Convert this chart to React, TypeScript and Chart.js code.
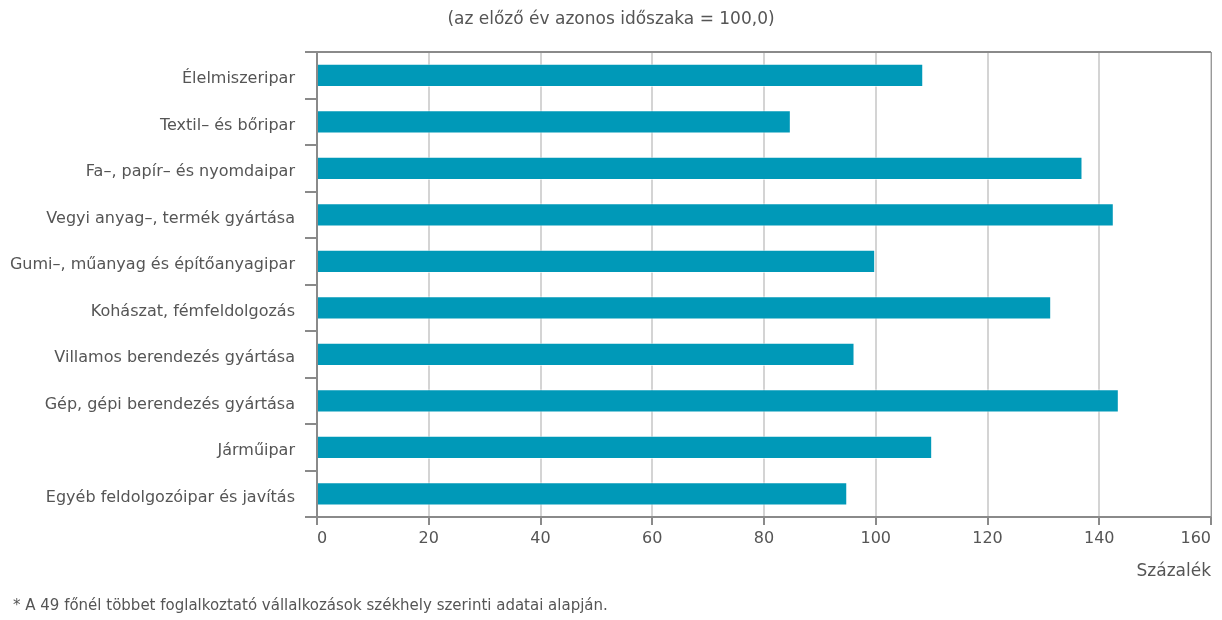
import React, { useEffect, useRef } from "react";
import { Chart, registerables } from "chart.js";

Chart.register(...registerables);

const categories = [
  "Élelmiszeripar",
  "Textil– és bőripar",
  "Fa–, papír– és nyomdaipar",
  "Vegyi anyag–, termék gyártása",
  "Gumi–, műanyag és építőanyagipar",
  "Kohászat, fémfeldolgozás",
  "Villamos berendezés gyártása",
  "Gép, gépi berendezés gyártása",
  "Járműipar",
  "Egyéb feldolgozóipar és javítás",
];
const values = [108.5, 84.8, 137.0, 142.6, 99.9, 131.4, 96.2, 143.5, 110.1, 94.9];
const xMin = 0;
const xMax = 160;
const xStep = 20;
const titleText = "(az előző év azonos időszaka = 100,0)";
const axisTitle = "Százalék";
const footnote = "* A 49 főnél többet foglalkoztató vállalkozások székhely szerinti adatai alapján.";

const FONT = "'DejaVu Sans', sans-serif";
const TEXT = "#555555";

const framePlugin = {
  id: "frame",
  afterDraw(chart: any) {
    const { ctx, chartArea } = chart;
    ctx.save();
    ctx.strokeStyle = "#8a8a8a";
    ctx.lineWidth = 2;
    ctx.beginPath();
    ctx.moveTo(chartArea.left - 12, chartArea.top);
    ctx.lineTo(chartArea.right, chartArea.top);
    ctx.stroke();
    ctx.strokeStyle = "#999999";
    ctx.lineWidth = 1;
    ctx.beginPath();
    ctx.moveTo(chartArea.right + 0.5, chartArea.top);
    ctx.lineTo(chartArea.right + 0.5, chartArea.bottom);
    ctx.stroke();
    ctx.restore();
  },
};

export default function App() {
  const ref = useRef<HTMLCanvasElement>(null);
  useEffect(() => {
    if (!ref.current) return;
    const chart = new Chart(ref.current, {
      type: "bar",
      data: {
        labels: categories,
        datasets: [
          {
            data: values,
            backgroundColor: "#0099b8",
            borderColor: "rgba(255,255,255,0.55)",
            borderWidth: 1,
            barPercentage: 0.5,
            categoryPercentage: 1,
          },
        ],
      },
      options: {
        indexAxis: "y",
        animation: false,
        responsive: false,
        maintainAspectRatio: false,
        layout: { padding: { top: 52, right: 11, left: 0, bottom: 38 } },
        plugins: {
          legend: { display: false },
          tooltip: { enabled: false },
          title: { display: false },
        },
        scales: {
          x: {
            min: xMin,
            max: xMax,
            ticks: {
              stepSize: xStep,
              color: TEXT,
              font: { family: FONT, size: 16 },
              padding: 4,
              align: "inner",
            },
            grid: {
              color: "#d4d4d4",
              lineWidth: 2,
              tickColor: "#8a8a8a",
              tickLength: 8,
            },
            border: { display: true, color: "#8a8a8a", width: 2 },
            title: {
              display: true,
              text: axisTitle,
              align: "end",
              color: TEXT,
              font: { family: FONT, size: 17 },
              padding: { top: 8, bottom: 0 },
            },
            afterFit(a: any) {
              a.height = 65;
              a.paddingLeft = 0;
              a.paddingRight = 0;
            },
          },
          y: {
            ticks: {
              color: TEXT,
              font: { family: FONT, size: 16 },
              padding: 10,
              labelOffset: 4,
            },
            grid: {
              drawOnChartArea: false,
              tickColor: "#8a8a8a",
              tickLength: 12,
              lineWidth: 2,
              offset: true,
            },
            border: { display: true, color: "#8a8a8a", width: 2 },
            afterFit(a: any) {
              a.width = 317;
              a.paddingTop = 0;
              a.paddingBottom = 0;
            },
          },
        },
      },
      plugins: [framePlugin],
    });
    return () => chart.destroy();
  }, []);

  return (
    <div style={{ position: "absolute", left: 0, top: 0, width: 1222, height: 620, background: "#fff" }}>
      <canvas ref={ref} width={1222} height={620} style={{ position: "absolute", left: 0, top: 0 }} />
      <div
        style={{
          position: "absolute",
          left: 0,
          width: 1222,
          top: 6,
          textAlign: "center",
          fontFamily: FONT,
          fontSize: 17,
          color: TEXT,
          lineHeight: "24px",
        }}
      >
        {titleText}
      </div>
      <div
        style={{
          position: "absolute",
          left: 13,
          top: 594,
          fontFamily: FONT,
          fontSize: 15,
          color: TEXT,
          lineHeight: "22px",
          whiteSpace: "nowrap",
        }}
      >
        {footnote}
      </div>
    </div>
  );
}
